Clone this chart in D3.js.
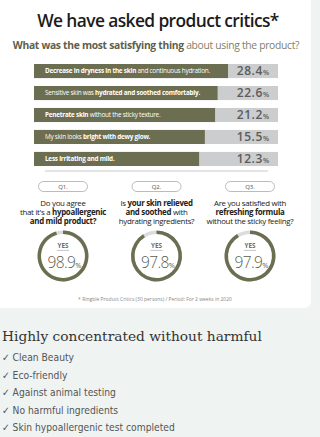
<!DOCTYPE html>
<html><head><meta charset="utf-8">
<script src="https://cdn.jsdelivr.net/npm/d3@7"></script>
<style>html,body{margin:0;padding:0;background:#eff3f2;}svg{display:block;}</style>
</head><body>
<script>
// ---- data ----
const title = "We have asked product critics*";
const subtitleBold = "What was the most satisfying thing";
const subtitleRest = " about using the product?";
const barLabels = [
  [["Decrease in dryness in the skin", true], [" and continuous hydration.", false]],
  [["Sensitive skin was ", false], ["hydrated and soothed comfortably.", true]],
  [["Penetrate skin", true], [" without the sticky texture.", false]],
  [["My skin looks ", false], ["bright with dewy glow.", true]],
  [["Less irritating and mild.", true]]
];
const barValues = [28.4, 22.6, 21.2, 15.5, 12.3];
const questions = ["Q1.", "Q2.", "Q3."];
const questionLines = [
  [[["Do you agree", false]], [["that it's a ", false], ["hypoallergenic", true]], [["and mild product?", true]]],
  [[["Is ", false], ["your skin relieved", true]], [["and soothed", true], [" with", false]], [["hydrating ingredients?", false]]],
  [[["Are you satisfied with", false]], [["refreshing formula", true]], [["without the sticky feeling?", false]]]
];
const yesValues = [98.9, 97.8, 97.9];
const footnote = "* Ringble Product Critics (30 persons) / Period: For 2 weeks in 2020";
const heading = "Highly concentrated without harmful";
const checklist = ["Clean Beauty", "Eco-friendly", "Against animal testing", "No harmful ingredients", "Skin hypoallergenic test completed"];

// ---- drawing ----
const W = 320, H = 437;
const olive = "#6b6e50", grey = "#cbcdce";
const svg = d3.select("body").append("svg").attr("width", W).attr("height", H);
svg.append("rect").attr("width", W).attr("height", H).attr("fill", "#eff3f2");
svg.append("rect").attr("x", -10).attr("y", -10).attr("width", 321).attr("height", 318).attr("rx", 7).attr("fill", "#fff");

function fit(sel, w) {
  const node = sel.node();
  let fs = parseFloat(sel.attr("font-size"));
  const len = node.getComputedTextLength();
  if (len > 0) sel.attr("font-size", fs * w / len);
  return sel;
}
function rich(parent, x, y, parts, opts) {
  const t = parent.append("text").attr("x", x).attr("y", y)
    .attr("font-family", opts.family).attr("font-size", opts.size)
    .attr("fill", opts.fill).attr("text-anchor", opts.anchor || "start");
  parts.forEach(([s, b]) => t.append("tspan").text(s).attr("font-weight", b ? (opts.bold || 700) : (opts.normal || 400))
    .attr("fill", b && opts.boldFill ? opts.boldFill : null));
  return t;
}

// title
const sans = "'Open Sans', 'Noto Sans', sans-serif";
const tt = svg.append("text").attr("x", 158).attr("y", 27).attr("text-anchor", "middle")
  .attr("font-family", sans).attr("font-weight", 600).attr("font-size", 20).attr("fill", "#1b1b1b")
  .attr("letter-spacing", -0.6).text(title);
fit(tt, 244);
const st = rich(svg, 156, 49, [[subtitleBold, true], [subtitleRest, false]],
  {family: sans, size: 11, fill: "#7e806a", boldFill: "#5e5f4c", anchor: "middle", bold: 700, normal: 400});
st.attr("letter-spacing", -0.3);
fit(st, 288);

// bars
const barX0 = 34, barX1 = 278;
const y = d3.scaleBand().domain(d3.range(barValues.length)).range([64, 166]).paddingInner(0.36).paddingOuter(0);
const w = d3.scaleLinear().domain([0, 28.4]).range([143, 194]);
const bars = svg.append("g");
let labelSize = 6.4;
barValues.forEach((v, i) => {
  const yy = y(i), bh = y.bandwidth();
  bars.append("rect").attr("x", barX0).attr("y", yy).attr("width", barX1 - barX0).attr("height", bh).attr("fill", grey);
  bars.append("rect").attr("x", barX0).attr("y", yy).attr("width", w(v)).attr("height", bh).attr("fill", olive);
  const lt = rich(bars, 45, yy + bh / 2 + 2.3, barLabels[i], {family: sans, size: labelSize, fill: "#fff", bold: 700, normal: 400});
  lt.attr("letter-spacing", -0.25);
  if (i === 0) { fit(lt, 165); labelSize = parseFloat(lt.attr("font-size")); }
  const vt = bars.append("text").attr("x", 269).attr("y", yy + bh / 2 + 4.2).attr("text-anchor", "end")
    .attr("font-family", sans).attr("fill", "#5b5b5b");
  vt.append("tspan").text(v.toFixed(1)).attr("font-size", 12).attr("font-weight", 600).attr("letter-spacing", 0.6);
  vt.append("tspan").text("%").attr("font-size", 7).attr("font-weight", 600);
});

// separator
svg.append("line").attr("x1", 45).attr("x2", 268).attr("y1", 171).attr("y2", 171).attr("stroke", "#bbb").attr("stroke-width", 0.8);

// questions
const cx = d3.scalePoint().domain(questions).range([63, 250]);
const ang = d3.scaleLinear().domain([75, 100]).range([0, 2 * Math.PI]);
const arcBg = d3.arc().innerRadius(22).outerRadius(25.5).startAngle(0).endAngle(2 * Math.PI);
const arcFg = d3.arc().innerRadius(22).outerRadius(25.5).startAngle(0);
questions.forEach((q, i) => {
  const x = cx(q);
  const g = svg.append("g");
  g.append("rect").attr("x", x - 24.5).attr("y", 181.5).attr("width", 49).attr("height", 10).attr("rx", 5)
    .attr("fill", "#fff").attr("stroke", "#a9a9a9").attr("stroke-width", 0.8);
  g.append("text").attr("x", x).attr("y", 188.8).attr("text-anchor", "middle").attr("font-family", sans)
    .attr("font-size", 6).attr("fill", "#555").text(q);
  questionLines[i].forEach((line, j) => {
    rich(g, x, 205.5 + j * 9.3, line, {family: sans, size: 7.9, fill: "#222", anchor: "middle", bold: 700, normal: 400})
      .attr("letter-spacing", -0.3);
  });
  const d = g.append("g").attr("transform", `translate(${x},256)`);
  d.append("path").attr("d", arcBg()).attr("fill", "#dcdcdc");
  d.append("path").attr("d", arcFg({endAngle: ang(yesValues[i])})).attr("fill", olive);
  d.append("text").attr("x", 0).attr("y", -8).attr("text-anchor", "middle").attr("font-family", sans)
    .attr("font-size", 6.3).attr("font-weight", 700).attr("fill", "#6a6a6a").text("YES");
  d.append("line").attr("x1", -6).attr("x2", 6).attr("y1", -5.6).attr("y2", -5.6).attr("stroke", "#888").attr("stroke-width", 0.5);
  const nt = d.append("text").attr("x", 1.5).attr("y", 11.5).attr("text-anchor", "middle").attr("font-family", sans).attr("fill", "#5b5c4a");
  nt.append("tspan").text(yesValues[i].toFixed(1)).attr("font-size", 15.5).attr("font-weight", 300).attr("letter-spacing", -0.6);
  nt.append("tspan").text("%").attr("font-size", 7.5).attr("font-weight", 400);
});

// footnote
const ft = svg.append("text").attr("x", 155).attr("y", 301).attr("text-anchor", "middle").attr("font-family", sans)
  .attr("font-size", 4.6).attr("fill", "#888").text(footnote);
fit(ft, 154);

// bottom heading
const ht = svg.append("text").attr("x", 2).attr("y", 341).attr("font-family", "'DejaVu Serif', 'Liberation Serif', serif")
  .attr("font-size", 16.5).attr("fill", "#333").text(heading);
fit(ht, 260);

const chk = svg.append("g").attr("font-family", "'DejaVu Sans Condensed', 'Roboto', sans-serif").attr("fill", "#555");
const items = chk.selectAll("text").data(checklist).join("text")
  .attr("x", 2).attr("y", (c, i) => 361 + i * 17.5).attr("font-size", 10.5).text(c => "\u2713 " + c);
const lastLen = items.nodes()[checklist.length - 1].getComputedTextLength();
items.attr("font-size", 10.5 * 173 / lastLen);
</script>
</body></html>
